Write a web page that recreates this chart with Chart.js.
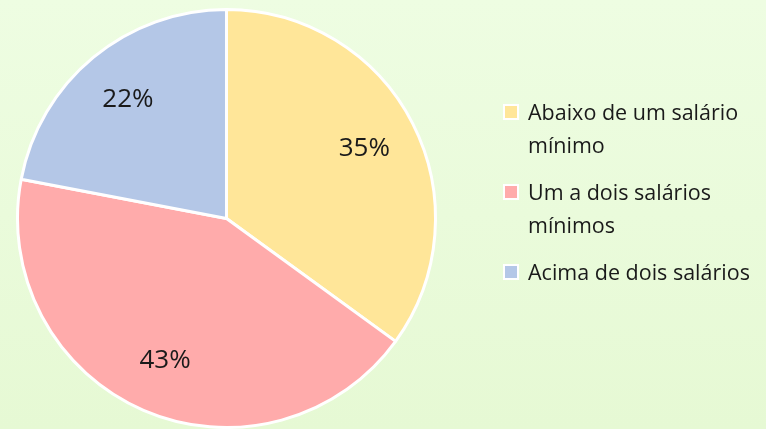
<!DOCTYPE html>
<html>
<head>
<meta charset="utf-8">
<script src="https://cdn.jsdelivr.net/npm/chart.js@4"></script>
<style>
  html, body { margin: 0; padding: 0; }
  body {
    width: 766px; height: 429px; overflow: hidden; position: relative;
    background: linear-gradient(to bottom, #eefde2, #e6f9d4);
    font-family: "Open Sans", sans-serif;
  }
  #wrap { position: absolute; left: 0; top: 0; width: 766px; height: 429px; }
  #legend { position: absolute; left: 503px; top: 95px; margin: 0; padding: 0; list-style: none; white-space: nowrap; }
  #legend li { position: relative; padding-left: 25px; font-size: 21.5px; line-height: 33px; color: #1a1a1a; margin-bottom: 14px; }
  #legend li span {
    position: absolute; left: 0; top: 9px; width: 12px; height: 12px;
    border: 2px solid #fff;
  }
</style>
</head>
<body>
<div id="wrap"><canvas id="myChart" width="766" height="429"></canvas></div>
<ul id="legend"></ul>
<script>
const labels = ['Abaixo de um salário mínimo', 'Um a dois salários mínimos', 'Acima de dois salários'];
const legendLines = [['Abaixo de um salário', 'mínimo'], ['Um a dois salários', 'mínimos'], ['Acima de dois salários']];
const values = [35, 43, 22];
const colors = ['#ffe699', '#ffabab', '#b4c7e7'];

// html legend with wrapped text like the original
const legend = document.getElementById('legend');
legendLines.forEach((lines, i) => {
    const li = document.createElement('li');
    const box = document.createElement('span');
    box.style.background = colors[i];
    li.appendChild(box);
    li.appendChild(document.createTextNode(lines[0]));
    for (let k = 1; k < lines.length; k++) {
        li.appendChild(document.createElement('br'));
        li.appendChild(document.createTextNode(lines[k]));
    }
    legend.appendChild(li);
});

// percent labels inside slices
const pctLabels = {
    id: 'pctLabels',
    afterDatasetsDraw(chart) {
        const ctx = chart.ctx;
        const meta = chart.getDatasetMeta(0);
        ctx.save();
        ctx.font = '26px "Open Sans", sans-serif';
        ctx.fillStyle = '#1a1a1a';
        ctx.textAlign = 'center';
        ctx.textBaseline = 'middle';
        meta.data.forEach((arc, i) => {
            const mid = (arc.startAngle + arc.endAngle) / 2;
            const r = arc.outerRadius * 0.74;
            ctx.fillText(values[i] + '%', arc.x + Math.cos(mid) * r, arc.y + Math.sin(mid) * r);
        });
        ctx.restore();
    }
};

const ctx = document.getElementById('myChart').getContext('2d');

const myChart = new Chart(ctx, {
    type: 'pie',
    data: {
        labels: labels,
        datasets: [{
            data: values,
            backgroundColor: colors,
            borderColor: '#ffffff',
            borderWidth: 3
        }]
    },
    options: {
        responsive: false,
        animation: false,
        layout: { padding: { left: 16, top: 8, right: 329, bottom: 0 } },
        plugins: {
            legend: { display: false },
            tooltip: { enabled: false }
        }
    },
    plugins: [pctLabels]
});
</script>
</body>
</html>
